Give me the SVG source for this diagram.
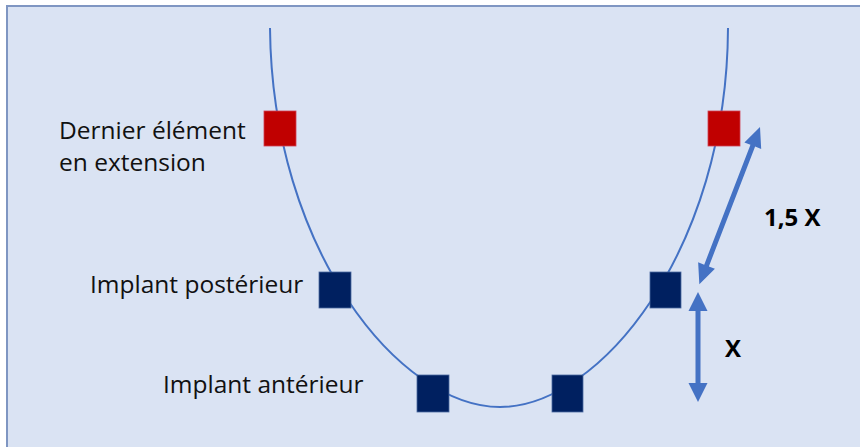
<svg xmlns="http://www.w3.org/2000/svg" width="860" height="447" viewBox="0 0 860 447">
  <defs>
    <style>
      .lbl { font-family: "Open Sans", "Noto Sans", "Liberation Sans", sans-serif; font-size: 24.5px; fill: #111111; }
      .dim { font-family: "Open Sans", "Noto Sans", "Liberation Sans", sans-serif; font-size: 24px; font-weight: bold; fill: #000000; }
      .curve { fill: none; stroke: #4472c4; stroke-width: 2; }
      .red { fill: #c00000; stroke: #d04050; stroke-width: 0.8; }
      .navy { fill: #002060; stroke: #4a6aa0; stroke-width: 0.8; }
      .arrow { fill: #4472c4; }
    </style>
  </defs>
  <rect x="0" y="0" width="860" height="447" fill="#ffffff"/>
  <rect x="7" y="6" width="853" height="441" fill="#dae3f3"/>
  <path d="M7,447 V6 H860" fill="none" stroke="#7f96c2" stroke-width="2"/>

  <g id="arch">
    <path class="curve" d="M270,28 C272,250 400,407 500,407 C600,407 727,250 728,28"/>
  </g>

  <g id="node-red-left"><rect class="red" x="264" y="111" width="32" height="35"/></g>
  <g id="node-red-right"><rect class="red" x="708" y="111" width="32" height="35"/></g>
  <g id="node-post-left"><rect class="navy" x="319" y="272" width="32" height="36"/></g>
  <g id="node-post-right"><rect class="navy" x="650" y="272" width="31" height="36"/></g>
  <g id="node-ant-left"><rect class="navy" x="417" y="375" width="32" height="37"/></g>
  <g id="node-ant-right"><rect class="navy" x="552" y="375" width="31" height="37"/></g>

  <g id="labels">
    <text class="lbl" x="59" y="139">Dernier élément</text>
    <text class="lbl" x="59" y="171">en extension</text>
    <text class="lbl" x="90" y="293">Implant postérieur</text>
    <text class="lbl" x="163" y="393">Implant antérieur</text>
    <text class="dim" x="764" y="226">1,5 X</text>
    <text class="dim" x="725" y="357">X</text>
  </g>

  <g id="connectors">
    <g transform="translate(760,127) rotate(111.1)">
      <path class="arrow" d="M0,0 L20,-9 L20,-2.5 L148.5,-2.5 L148.5,-9 L168.5,0 L148.5,9 L148.5,2.5 L20,2.5 L20,9 Z"/>
    </g>
    <g transform="translate(698,292) rotate(90)">
      <path class="arrow" d="M0,0 L19,-9.5 L19,-2.5 L91,-2.5 L91,-9.5 L110,0 L91,9.5 L91,2.5 L19,2.5 L19,9.5 Z"/>
    </g>
  </g>
</svg>
